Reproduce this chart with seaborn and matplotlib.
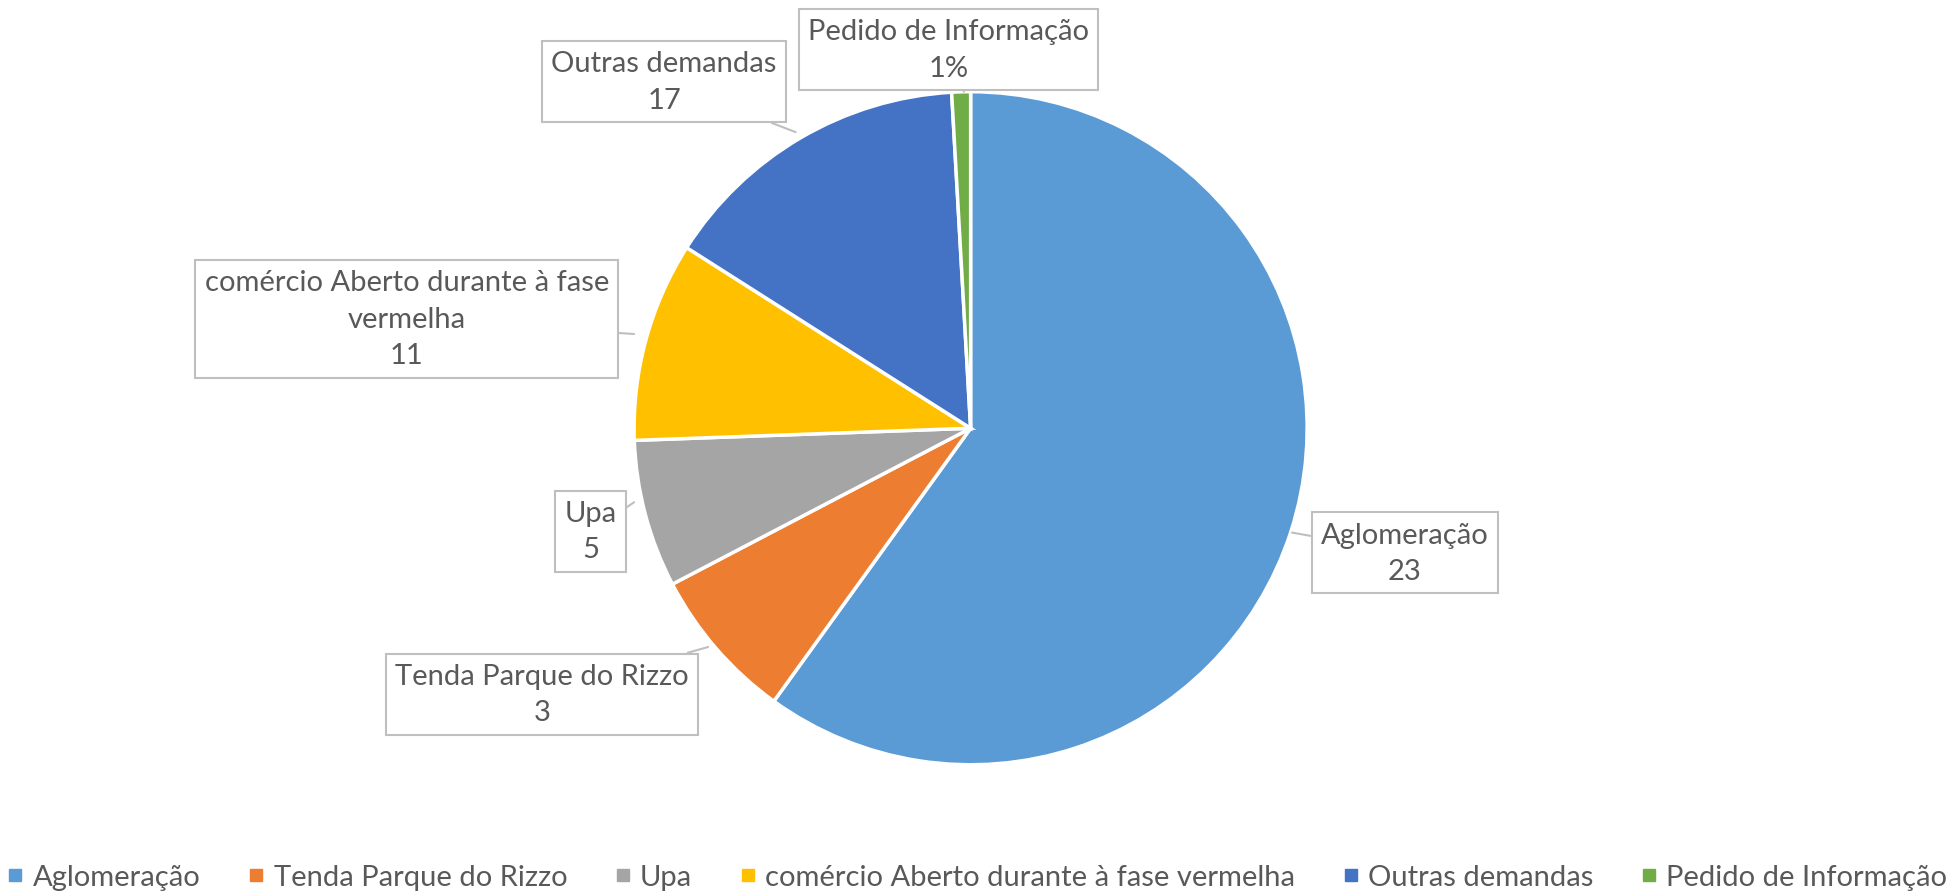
import matplotlib
matplotlib.use("Agg")
import matplotlib.pyplot as plt
import seaborn as sns
from matplotlib.lines import Line2D

# dados
categorias = ["Aglomeração", "Tenda Parque do Rizzo", "Upa",
              "comércio Aberto durante à fase vermelha", "Outras demandas",
              "Pedido de Informação"]
fatias = [60.0, 7.4, 7.1, 9.6, 15.1, 0.9]
rotulos_valor = ["23", "3", "5", "11", "17", "1%"]
rotulos_nome = ["Aglomeração", "Tenda Parque do Rizzo", "Upa",
                "comércio Aberto durante à fase\nvermelha", "Outras demandas",
                "Pedido de Informação"]
cores = ["#5B9BD5", "#ED7D31", "#A5A5A5", "#FFC000", "#4472C4", "#70AD47"]

sns.set_theme(style="white")
plt.rcParams["font.family"] = ["Lato", "DejaVu Sans"]
cor_texto = "#595959"

fig = plt.figure(figsize=(19.51, 8.95), dpi=100)
ax = fig.add_axes([0.325, 0.1444, 0.345, 0.752])

fatias_plot, _ = ax.pie(
    fatias,
    colors=cores,
    startangle=90,
    counterclock=False,
    wedgeprops=dict(edgecolor="white", linewidth=2.5),
)
ax.set_xlim(-1, 1)
ax.set_ylim(-1, 1)
ax.set_aspect("equal")

# posicao das caixas (coordenadas do pie) e ponto de ligacao na borda
pos_caixas = [(1.29, -0.37), (-1.273, -0.79), (-1.129, -0.306),
              (-1.675, 0.325), (-0.911, 1.03), (-0.066, 1.125)]
pontos = [(0.955, -0.31), (-0.78, -0.65), (-1.0, -0.22),
          (-1.0, 0.28), (-0.52, 0.88), (-0.02, 1.0)]

for nome, val, caixa, ponto in zip(rotulos_nome, rotulos_valor, pos_caixas, pontos):
    ax.annotate(
        f"{nome}\n{val}",
        xy=ponto, xytext=caixa,
        ha="center", va="center",
        fontsize=21, color=cor_texto, linespacing=1.5,
        bbox=dict(boxstyle="square,pad=0.32", fc="white", ec="#BFBFBF", lw=1.5),
        arrowprops=dict(arrowstyle="-", color="#BFBFBF", lw=1.5,
                        shrinkA=0, shrinkB=0),
        annotation_clip=False,
    )

handles = [Line2D([0], [0], marker="s", linestyle="", markersize=9,
                  markerfacecolor=c, markeredgecolor=c) for c in cores]
fig.legend(handles, categorias, loc="center", bbox_to_anchor=(0.5, 0.019),
           ncol=6, frameon=False, fontsize=21, labelcolor=cor_texto,
           handletextpad=0.2, columnspacing=1.5, handlelength=0.8)

fig.savefig("out.png", dpi=100, facecolor="white")
